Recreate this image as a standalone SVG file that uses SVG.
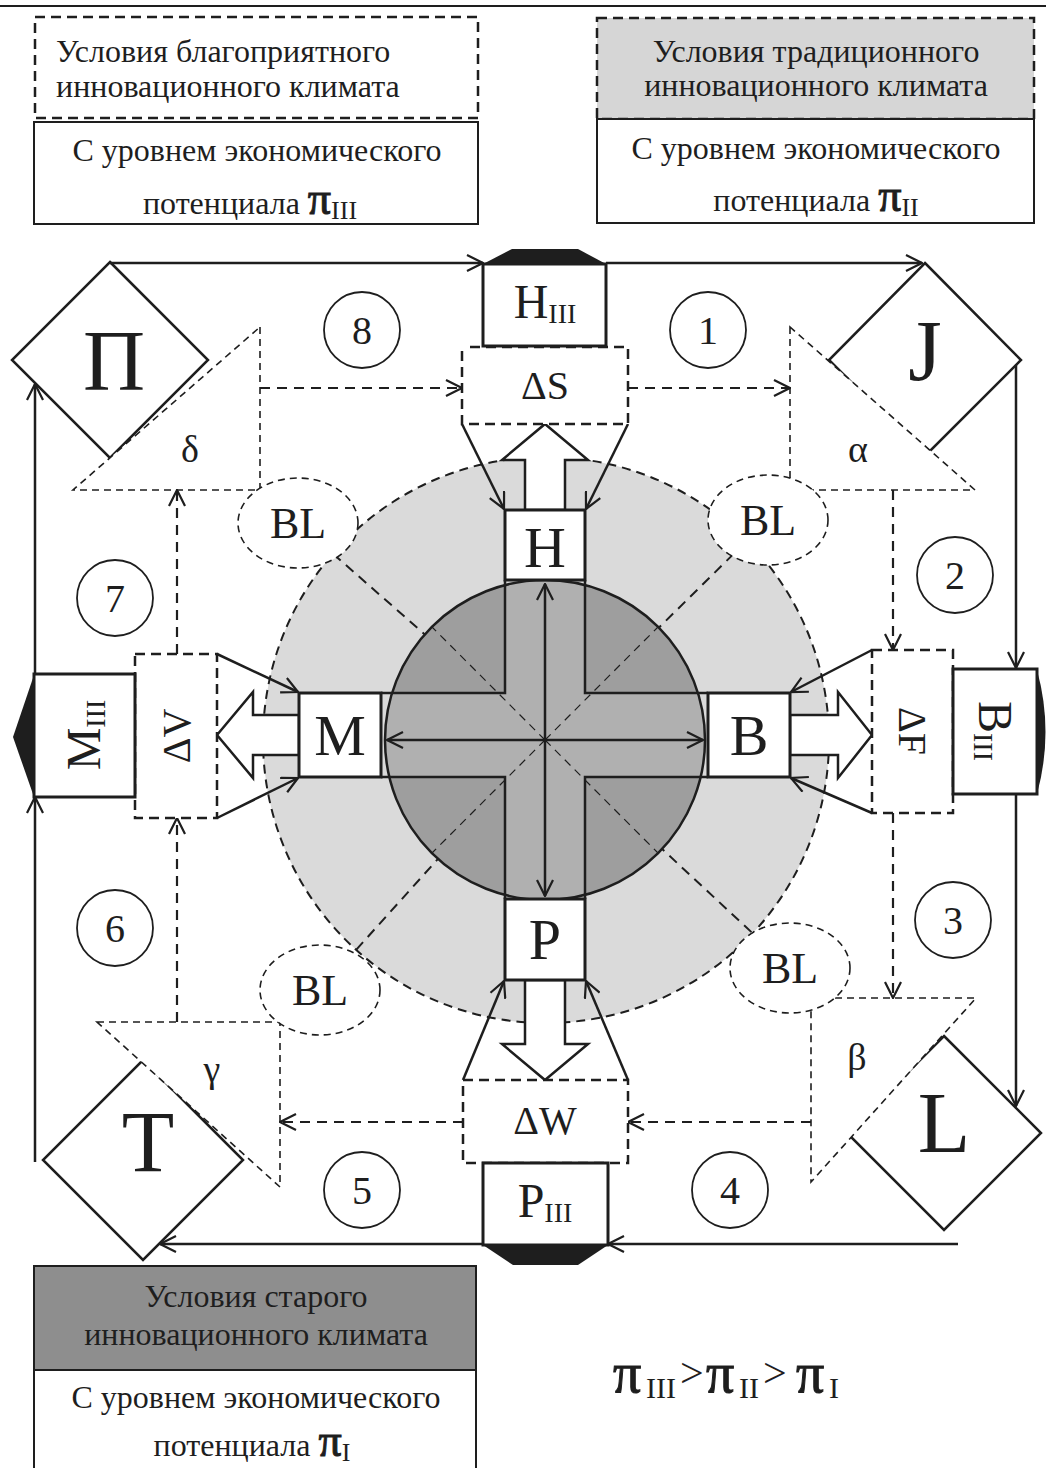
<svg xmlns="http://www.w3.org/2000/svg" width="1046" height="1468" viewBox="0 0 1046 1468">
<style>
text{font-family:"Liberation Serif","Times New Roman",serif;fill:#1e1e1e}
.box{fill:#fff;stroke:#1e1e1e;stroke-width:3}
.dbox{fill:#fff;stroke:#1e1e1e;stroke-width:2.5;stroke-dasharray:10 6}
.thin{fill:#fff;stroke:#1e1e1e;stroke-width:1.6;stroke-dasharray:7 5}
.ln{fill:none;stroke:#1e1e1e;stroke-width:2.5}
.dl{fill:none;stroke:#1e1e1e;stroke-width:2.2;stroke-dasharray:10 7}
.ho{fill:#fff;stroke:#1e1e1e;stroke-width:2.5;stroke-linejoin:miter}
.lt{font-size:32px}
.num{font-size:40px;text-anchor:middle}
.big{font-size:86px;text-anchor:middle}
.mid{text-anchor:middle}
.pi{stroke:#1e1e1e;stroke-width:1}
</style>
<defs>
<marker id="a" viewBox="0 0 18 18" refX="17" refY="9" markerWidth="18" markerHeight="18" markerUnits="userSpaceOnUse" orient="auto-start-reverse">
<path d="M1,1 L17,9 L1,17" fill="none" stroke="#1e1e1e" stroke-width="2.2" stroke-dasharray="none"/>
</marker>
<clipPath id="cc"><circle cx="545" cy="740" r="160"/></clipPath>
</defs>
<rect width="1046" height="1468" fill="#fff"/>
<line x1="0" y1="6" x2="1046" y2="6" stroke="#1e1e1e" stroke-width="2"/>

<g id="legend-favorable">
<rect x="35" y="17" width="443" height="101" class="dbox"/>
<rect x="34" y="122" width="444" height="102" fill="#fff" stroke="#1e1e1e" stroke-width="2"/>
<text x="56" y="62" class="lt">Условия благоприятного</text>
<text x="56" y="97" class="lt">инновационного климата</text>
<text x="257" y="161" class="lt mid">С уровнем экономического</text>
<text x="250" y="214" class="lt mid">потенциала <tspan font-size="46" class="pi">π</tspan><tspan font-size="26" dy="5">III</tspan></text>
</g>

<g id="legend-traditional">
<rect x="597" y="18" width="437" height="101" class="dbox" style="fill:#d6d6d6"/>
<rect x="597" y="119" width="437" height="104" fill="#fff" stroke="#1e1e1e" stroke-width="2"/>
<text x="816" y="62" class="lt mid">Условия традиционного</text>
<text x="816" y="96" class="lt mid">инновационного климата</text>
<text x="816" y="159" class="lt mid">С уровнем экономического</text>
<text x="816" y="211" class="lt mid">потенциала <tspan font-size="46" class="pi">π</tspan><tspan font-size="26" dy="5">II</tspan></text>
</g>

<g id="legend-old">
<rect x="34" y="1266" width="442" height="104" fill="#8e8e8e" stroke="#1e1e1e" stroke-width="2"/>
<path d="M34,1480 V1370 H476 V1480" fill="#fff" stroke="#1e1e1e" stroke-width="2"/>
<text x="256" y="1307" class="lt mid">Условия старого</text>
<text x="256" y="1345" class="lt mid">инновационного климата</text>
<text x="256" y="1408" class="lt mid">С уровнем экономического</text>
<text x="252" y="1456" class="lt mid">потенциала <tspan font-size="46" class="pi">π</tspan><tspan font-size="26" dy="5">I</tspan></text>
</g>

<g id="formula">
<text y="1392"><tspan x="613" font-size="56" class="pi">π</tspan><tspan x="646" y="1398" font-size="30">III</tspan><tspan x="680" y="1387" font-size="42">&gt;</tspan><tspan x="706" y="1392" font-size="56" class="pi">π</tspan><tspan x="739" y="1398" font-size="30">II</tspan><tspan x="763" y="1387" font-size="42">&gt;</tspan><tspan x="796" y="1392" font-size="56" class="pi">π</tspan><tspan x="829" y="1398" font-size="30">I</tspan></text>
</g>

<g id="zone">
<circle cx="546" cy="740" r="283" fill="#dadada" stroke="#1e1e1e" stroke-width="2" stroke-dasharray="9 6"/>
<g stroke="#1e1e1e" stroke-width="2" stroke-dasharray="10 7">
<line x1="545" y1="740" x2="298" y2="523"/>
<line x1="545" y1="740" x2="768" y2="520"/>
<line x1="545" y1="740" x2="320" y2="990"/>
<line x1="545" y1="740" x2="790" y2="968"/>
</g>
</g>

<g id="diamond-P">
<polygon points="110,262 208,360 110,458 12,360" class="box" style="stroke-width:2.5"/>
<text x="114" y="390" class="big">П</text>
</g>
<g id="diamond-J">
<polygon points="925,263 1021,360 925,456 829,360" class="box" style="stroke-width:2.5"/>
<text x="925" y="380" class="big">J</text>
</g>
<g id="diamond-T">
<polygon points="143,1060 243,1160 143,1260 43,1160" class="box" style="stroke-width:2.5"/>
<text x="148" y="1171" class="big">T</text>
</g>
<g id="diamond-L">
<polygon points="944,1036 1041,1133 944,1230 847,1133" class="box" style="stroke-width:2.5"/>
<text x="944" y="1152" class="big">L</text>
</g>

<g id="tri-delta">
<polygon points="260,327 260,490 73,490" class="thin"/>
<text x="190" y="462" font-size="38" class="mid">δ</text>
</g>
<g id="tri-alpha">
<polygon points="790,327 790,490 975,490" class="thin"/>
<text x="858" y="462" font-size="38" class="mid">α</text>
</g>
<g id="tri-beta">
<polygon points="811,998 976,998 811,1182" class="thin"/>
<text x="857" y="1070" font-size="38" class="mid">β</text>
</g>
<g id="tri-gamma">
<polygon points="97,1022 280,1022 280,1187" class="thin"/>
<text x="212" y="1082" font-size="38" class="mid">γ</text>
</g>

<g id="bl-1"><ellipse cx="298" cy="523" rx="60" ry="45" class="thin"/><text x="298" y="538" font-size="44" class="mid">BL</text></g>
<g id="bl-2"><ellipse cx="768" cy="520" rx="60" ry="45" class="thin"/><text x="768" y="535" font-size="44" class="mid">BL</text></g>
<g id="bl-3"><ellipse cx="320" cy="990" rx="60" ry="45" class="thin"/><text x="320" y="1005" font-size="44" class="mid">BL</text></g>
<g id="bl-4"><ellipse cx="790" cy="968" rx="60" ry="45" class="thin"/><text x="790" y="983" font-size="44" class="mid">BL</text></g>

<g id="core">
<circle cx="545" cy="740" r="160" fill="#9e9e9e"/>
<g clip-path="url(#cc)" fill="#b0b0b0">
<rect x="505" y="570" width="80" height="340"/>
<rect x="375" y="693" width="340" height="84"/>
</g>
<g stroke="#1e1e1e" stroke-width="1.2" stroke-dasharray="8 6">
<line x1="545" y1="740" x2="432" y2="627"/>
<line x1="545" y1="740" x2="658" y2="627"/>
<line x1="545" y1="740" x2="432" y2="853"/>
<line x1="545" y1="740" x2="658" y2="853"/>
</g>
<circle cx="545" cy="740" r="160" fill="none" stroke="#1e1e1e" stroke-width="2.5"/>
<g class="ln">
<polyline points="381,693 505,693 505,580" fill="none"/>
<polyline points="585,580 585,693 708,693" fill="none"/>
<polyline points="381,777 505,777 505,899" fill="none"/>
<polyline points="585,899 585,777 708,777" fill="none"/>
</g>
</g>

<g id="connectors">
<line x1="110" y1="263" x2="483" y2="263" class="ln" marker-end="url(#a)"/>
<line x1="606" y1="263" x2="922" y2="263" class="ln" marker-end="url(#a)"/>
<line x1="1016" y1="365" x2="1016" y2="668" class="ln" marker-end="url(#a)"/>
<line x1="1016" y1="794" x2="1016" y2="1106" class="ln" marker-end="url(#a)"/>
<line x1="958" y1="1244" x2="608" y2="1244" class="ln" marker-end="url(#a)"/>
<line x1="483" y1="1244" x2="160" y2="1244" class="ln" marker-end="url(#a)"/>
<line x1="35" y1="1162" x2="35" y2="797" class="ln" marker-end="url(#a)"/>
<line x1="35" y1="674" x2="35" y2="384" class="ln" marker-end="url(#a)"/>

<line x1="260" y1="388" x2="462" y2="388" class="dl" marker-end="url(#a)"/>
<line x1="628" y1="388" x2="790" y2="388" class="dl" marker-end="url(#a)"/>
<line x1="893" y1="490" x2="893" y2="650" class="dl" marker-end="url(#a)"/>
<line x1="893" y1="813" x2="893" y2="998" class="dl" marker-end="url(#a)"/>
<line x1="811" y1="1122" x2="628" y2="1122" class="dl" marker-end="url(#a)"/>
<line x1="463" y1="1122" x2="280" y2="1122" class="dl" marker-end="url(#a)"/>
<line x1="177" y1="1022" x2="177" y2="818" class="dl" marker-end="url(#a)"/>
<line x1="177" y1="654" x2="177" y2="490" class="dl" marker-end="url(#a)"/>

<line x1="462" y1="424" x2="504" y2="509" class="ln" marker-end="url(#a)"/>
<line x1="628" y1="424" x2="586" y2="509" class="ln" marker-end="url(#a)"/>
<line x1="217" y1="654" x2="298" y2="692" class="ln" marker-end="url(#a)"/>
<line x1="217" y1="818" x2="298" y2="778" class="ln" marker-end="url(#a)"/>
<line x1="872" y1="650" x2="791" y2="692" class="ln" marker-end="url(#a)"/>
<line x1="872" y1="813" x2="791" y2="778" class="ln" marker-end="url(#a)"/>
<line x1="463" y1="1080" x2="504" y2="981" class="ln" marker-end="url(#a)"/>
<line x1="628" y1="1080" x2="586" y2="981" class="ln" marker-end="url(#a)"/>

<line x1="545" y1="584" x2="545" y2="896" class="ln" stroke-width="2" marker-start="url(#a)" marker-end="url(#a)"/>
<line x1="387" y1="740" x2="703" y2="740" class="ln" stroke-width="2" marker-start="url(#a)" marker-end="url(#a)"/>

<path d="M545,424 L588,460 L565,460 L565,510 L525,510 L525,460 L502,460 Z" class="ho"/>
<path d="M545,1080 L588,1044 L565,1044 L565,980 L525,980 L525,1044 L502,1044 Z" class="ho"/>
<path d="M217,735 L253,692 L253,715 L299,715 L299,755 L253,755 L253,778 Z" class="ho"/>
<path d="M872,735 L838,692 L838,715 L790,715 L790,755 L838,755 L838,778 Z" class="ho"/>
</g>

<g id="node-H"><rect x="505" y="510" width="80" height="70" class="box"/><text x="545" y="567" font-size="58" class="mid">H</text></g>
<g id="node-M"><rect x="299" y="693" width="82" height="84" class="box"/><text x="340" y="755" font-size="58" class="mid">M</text></g>
<g id="node-B"><rect x="708" y="693" width="82" height="84" class="box"/><text x="749" y="755" font-size="58" class="mid">B</text></g>
<g id="node-P"><rect x="505" y="899" width="80" height="81" class="box"/><text x="545" y="959" font-size="58" class="mid">P</text></g>

<g id="node-dS"><path d="M470,347 H628 V424 H462 V347" class="dbox"/><text x="545" y="399" font-size="40" class="mid">ΔS</text></g>
<g id="node-dW"><rect x="463" y="1080" width="165" height="83" class="dbox"/><text x="545" y="1134" font-size="40" class="mid">ΔW</text></g>
<g id="node-dV"><rect x="135" y="654" width="82" height="164" class="dbox"/><text transform="translate(177,736) rotate(-90)" x="0" y="13" font-size="40" class="mid">ΔV</text></g>
<g id="node-dF"><rect x="872" y="650" width="81" height="163" class="dbox"/><text transform="translate(912,731) rotate(90)" x="0" y="13" font-size="40" class="mid">ΔF</text></g>

<g id="node-HIII">
<polygon points="483,264 512,249 578,249 606,264" fill="#1e1e1e"/>
<rect x="483" y="264" width="123" height="82" class="box"/>
<text x="545" y="318" font-size="48" class="mid">H<tspan font-size="28" dy="5">III</tspan></text>
</g>
<g id="node-PIII">
<polygon points="483,1245 608,1245 578,1265 513,1265" fill="#1e1e1e"/>
<rect x="483" y="1163" width="125" height="82" class="box"/>
<text x="545" y="1217" font-size="48" class="mid">P<tspan font-size="28" dy="5">III</tspan></text>
</g>
<g id="node-MIII">
<polygon points="34,675 13,737 34,797" fill="#1e1e1e"/>
<rect x="34" y="674" width="101" height="123" class="box"/>
<text transform="translate(84,735) rotate(-90)" x="0" y="16" font-size="48" class="mid">M<tspan font-size="28" dy="5">III</tspan></text>
</g>
<g id="node-BIII">
<path d="M1037,670 Q1054,732 1037,794 Z" fill="#1e1e1e"/>
<rect x="953" y="669" width="84" height="125" class="box"/>
<text transform="translate(995,731) rotate(90)" x="0" y="16" font-size="48" class="mid">B<tspan font-size="28" dy="5">III</tspan></text>
</g>

<g id="num-1"><circle cx="708" cy="330" r="38" fill="#fff" stroke="#1e1e1e" stroke-width="1.8"/><text x="708" y="344" class="num">1</text></g>
<g id="num-2"><circle cx="955" cy="575" r="38" fill="#fff" stroke="#1e1e1e" stroke-width="1.8"/><text x="955" y="589" class="num">2</text></g>
<g id="num-3"><circle cx="953" cy="920" r="38" fill="#fff" stroke="#1e1e1e" stroke-width="1.8"/><text x="953" y="934" class="num">3</text></g>
<g id="num-4"><circle cx="730" cy="1190" r="38" fill="#fff" stroke="#1e1e1e" stroke-width="1.8"/><text x="730" y="1204" class="num">4</text></g>
<g id="num-5"><circle cx="362" cy="1190" r="38" fill="#fff" stroke="#1e1e1e" stroke-width="1.8"/><text x="362" y="1204" class="num">5</text></g>
<g id="num-6"><circle cx="115" cy="928" r="38" fill="#fff" stroke="#1e1e1e" stroke-width="1.8"/><text x="115" y="942" class="num">6</text></g>
<g id="num-7"><circle cx="115" cy="598" r="38" fill="#fff" stroke="#1e1e1e" stroke-width="1.8"/><text x="115" y="612" class="num">7</text></g>
<g id="num-8"><circle cx="362" cy="330" r="38" fill="#fff" stroke="#1e1e1e" stroke-width="1.8"/><text x="362" y="344" class="num">8</text></g>
</svg>
